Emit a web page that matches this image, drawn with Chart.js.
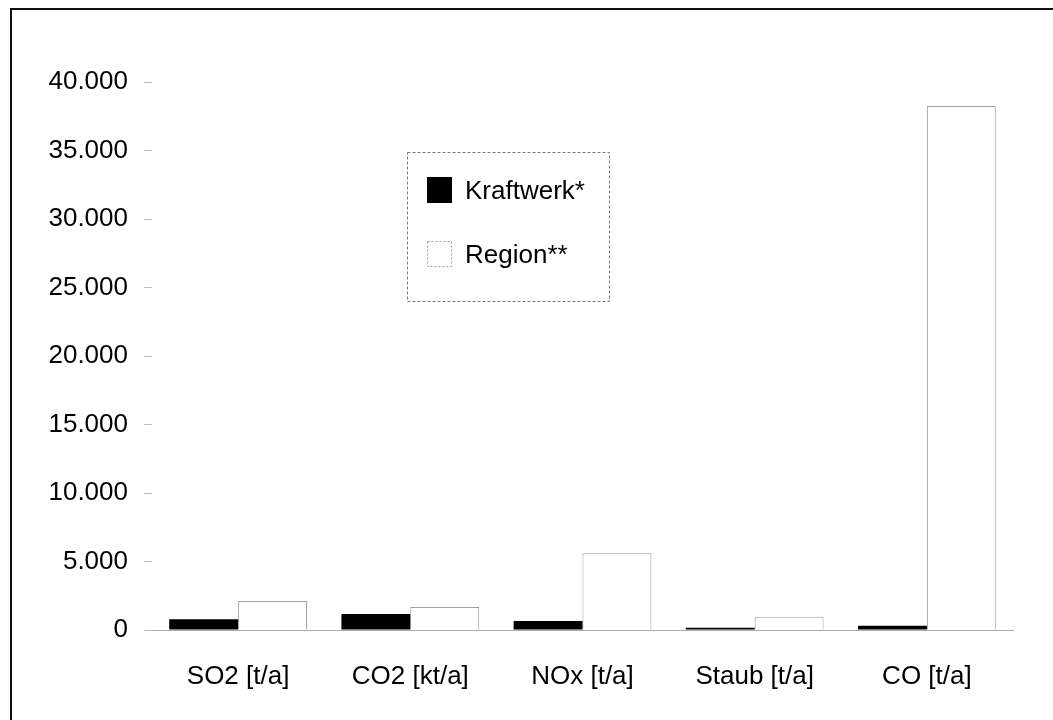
<!DOCTYPE html>
<html>
<head>
<meta charset="utf-8">
<script src="https://cdn.jsdelivr.net/npm/chart.js@4/dist/chart.umd.min.js"></script>
<style>
  body { margin: 0; background: #fff; }
  #wrap { position: relative; width: 1053px; height: 720px; overflow: hidden; }
  #frame { position: absolute; left: 10px; top: 8px; width: 1100px; height: 800px;
           border-top: 2px solid #111; border-left: 2px solid #111; pointer-events: none; }
  canvas { position: absolute; left: 0; top: 0; }
</style>
</head>
<body>
<div id="wrap">
  <canvas id="grafico" width="1053" height="720"></canvas>
  <div id="frame"></div>
</div>
<script>
// Kategorien und Werte
const kategorien = ["SO2 [t/a]", "CO2 [kt/a]", "NOx [t/a]", "Staub [t/a]", "CO [t/a]"];
const kraftwerk = [790, 1170, 650, 160, 310];
const region = [2110, 1680, 5600, 960, 38250];
const yTicks = [0, 5000, 10000, 15000, 20000, 25000, 30000, 35000, 40000];

const schrift = "'Liberation Sans', Arial, Helvetica, sans-serif";

function formatDe(v) {
    return String(v).replace(/\B(?=(\d{3})+(?!\d))/g, ".");
}

// Legende im Diagramm (gestrichelter Rahmen)
const legendePlugin = {
    id: 'legendeBox',
    afterDraw(chart) {
        const ctx = chart.ctx;
        ctx.save();
        ctx.setLineDash([3, 2]);
        ctx.strokeStyle = '#777';
        ctx.lineWidth = 1;
        ctx.strokeRect(407.5, 152.5, 202, 149);
        ctx.font = "26px " + schrift;
        ctx.textBaseline = 'middle';
        ctx.fillStyle = '#000';
        const ds = chart.data.datasets;
        const zeilen = [190, 254];
        ds.forEach(function (d, i) {
            const y = zeilen[i];
            ctx.setLineDash(i === 0 ? [] : [2, 2]);
            ctx.fillStyle = d.backgroundColor;
            ctx.fillRect(427, y - 13, 25, 26);
            if (i > 0) {
                ctx.strokeStyle = d.borderColor;
                ctx.strokeRect(427.5, y - 12.5, 24, 25);
            }
            ctx.fillStyle = '#000';
            ctx.fillText(d.label, 465, y + 2);
        });
        ctx.restore();
    }
};

const ctx = document.getElementById('grafico').getContext('2d');
const chart = new Chart(ctx, {
    type: 'bar',
    data: {
        labels: kategorien,
        datasets: [
            {
                label: 'Kraftwerk*',
                data: kraftwerk,
                backgroundColor: '#000',
                borderWidth: 0
            },
            {
                label: 'Region**',
                data: region,
                backgroundColor: '#fff',
                borderColor: '#a0a0a0',
                borderWidth: 1
            }
        ]
    },
    options: {
        responsive: false,
        animation: false,
        layout: {
            padding: { left: 0, right: 40, top: 82, bottom: 0 }
        },
        datasets: {
            bar: { categoryPercentage: 0.8, barPercentage: 1.0 }
        },
        plugins: {
            legend: { display: false },
            tooltip: { enabled: false }
        },
        scales: {
            x: {
                afterFit: function (s) { s.height = 90; },
                grid: { display: false },
                border: { display: true, color: '#aaa', width: 1, dash: [2, 2] },
                ticks: {
                    color: '#000',
                    padding: 23,
                    font: { size: 26, family: schrift }
                }
            },
            y: {
                min: 0,
                max: 40000,
                afterFit: function (s) { s.width = 152; },
                afterBuildTicks: function (s) {
                    s.ticks = yTicks.map(function (v) { return { value: v }; });
                },
                grid: {
                    drawOnChartArea: false,
                    drawTicks: true,
                    tickLength: 8,
                    color: '#bbb'
                },
                border: { display: false },
                ticks: {
                    color: '#000',
                    padding: 16,
                    font: { size: 26, family: schrift },
                    callback: function (v) { return formatDe(v); }
                }
            }
        }
    },
    plugins: [legendePlugin]
});
</script>
</body>
</html>
